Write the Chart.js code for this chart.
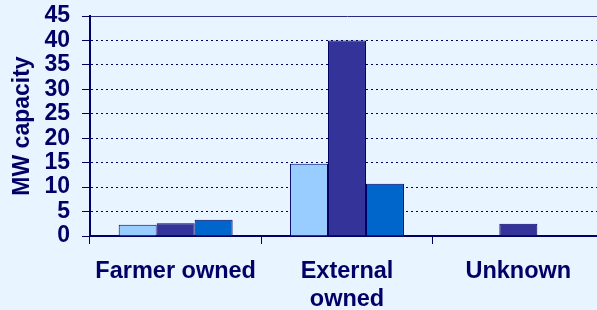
<!DOCTYPE html>
<html>
<head>
<meta charset="utf-8">
<script src="https://cdn.jsdelivr.net/npm/chart.js@4/dist/chart.umd.min.js"></script>
<style>
  html, body { margin: 0; padding: 0; overflow: hidden; background: #E8F4FF; }
  #wrap { width: 610px; height: 310px; }
</style>
</head>
<body>
<div id="wrap"><canvas id="mwChart" width="610" height="310"></canvas></div>
<script>
// chart data
const categories = ['Farmer owned', ['External', 'owned'], 'Unknown'];
const seriesA = [2.3, 14.8, null];
const seriesB = [2.6, 40, 2.5];
const seriesC = [3.3, 10.7, null];
const yTicks = [0, 5, 10, 15, 20, 25, 30, 35, 40, 45];

const navy = '#000066';

document.addEventListener('DOMContentLoaded', function() {
    const ctx = document.getElementById('mwChart').getContext('2d');
    const mwChart = new Chart(ctx, {
        type: 'bar',
        data: {
            labels: categories,
            datasets: [
                { label: 'A', data: seriesA, backgroundColor: '#99CCFF', borderColor: navy, borderWidth: 1 },
                { label: 'B', data: seriesB, backgroundColor: '#333399', borderColor: navy, borderWidth: 1 },
                { label: 'C', data: seriesC, backgroundColor: '#0066CC', borderColor: navy, borderWidth: 1 }
            ]
        },
        options: {
            responsive: false,
            animation: false,
            layout: { padding: { top: 16, right: 6, left: 0, bottom: 0 } },
            plugins: {
                legend: { display: false },
                tooltip: { enabled: false }
            },
            datasets: {
                bar: { categoryPercentage: 0.665, barPercentage: 1.0 }
            },
            scales: {
                x: {
                    offset: true,
                    grid: {
                        offset: true,
                        drawOnChartArea: false,
                        tickColor: navy,
                        tickLength: 8,
                        tickWidth: 1
                    },
                    border: { color: navy, width: 2 },
                    ticks: {
                        color: navy,
                        maxRotation: 0,
                        autoSkip: false,
                        padding: 13,
                        font: { family: 'Liberation Sans, Arial, sans-serif', size: 23.5, weight: 'bold', lineHeight: 1.2 }
                    },
                    afterFit: function(scale) { scale.height = 74; }
                },
                y: {
                    min: 0,
                    max: 45,
                    afterBuildTicks: function(scale) {
                        scale.ticks = yTicks.map(v => ({ value: v }));
                    },
                    grid: {
                        color: function(c) { return c.tick && c.tick.value === 45 ? '#2a2a80' : navy; },
                        lineWidth: 1,
                        tickColor: navy,
                        tickLength: 8,
                        tickBorderDash: []
                    },
                    border: {
                        color: navy,
                        width: 2,
                        dash: function(c) { return c.tick && c.tick.value === 45 ? [] : [2, 3]; }
                    },
                    ticks: {
                        color: navy,
                        padding: 12,
                        autoSkip: false,
                        // small lineHeight keeps the top padding from growing
                        font: { family: 'Liberation Sans, Arial, sans-serif', size: 23, weight: 'bold', lineHeight: 0.3 }
                    },
                    title: {
                        display: true,
                        text: 'MW capacity',
                        color: navy,
                        padding: { top: 9, bottom: 0 },
                        font: { family: 'Liberation Sans, Arial, sans-serif', size: 23, weight: 'bold', lineHeight: 1.2 }
                    },
                    afterFit: function(scale) { scale.width = 90; }
                }
            }
        }
    });
});
</script>
</body>
</html>
